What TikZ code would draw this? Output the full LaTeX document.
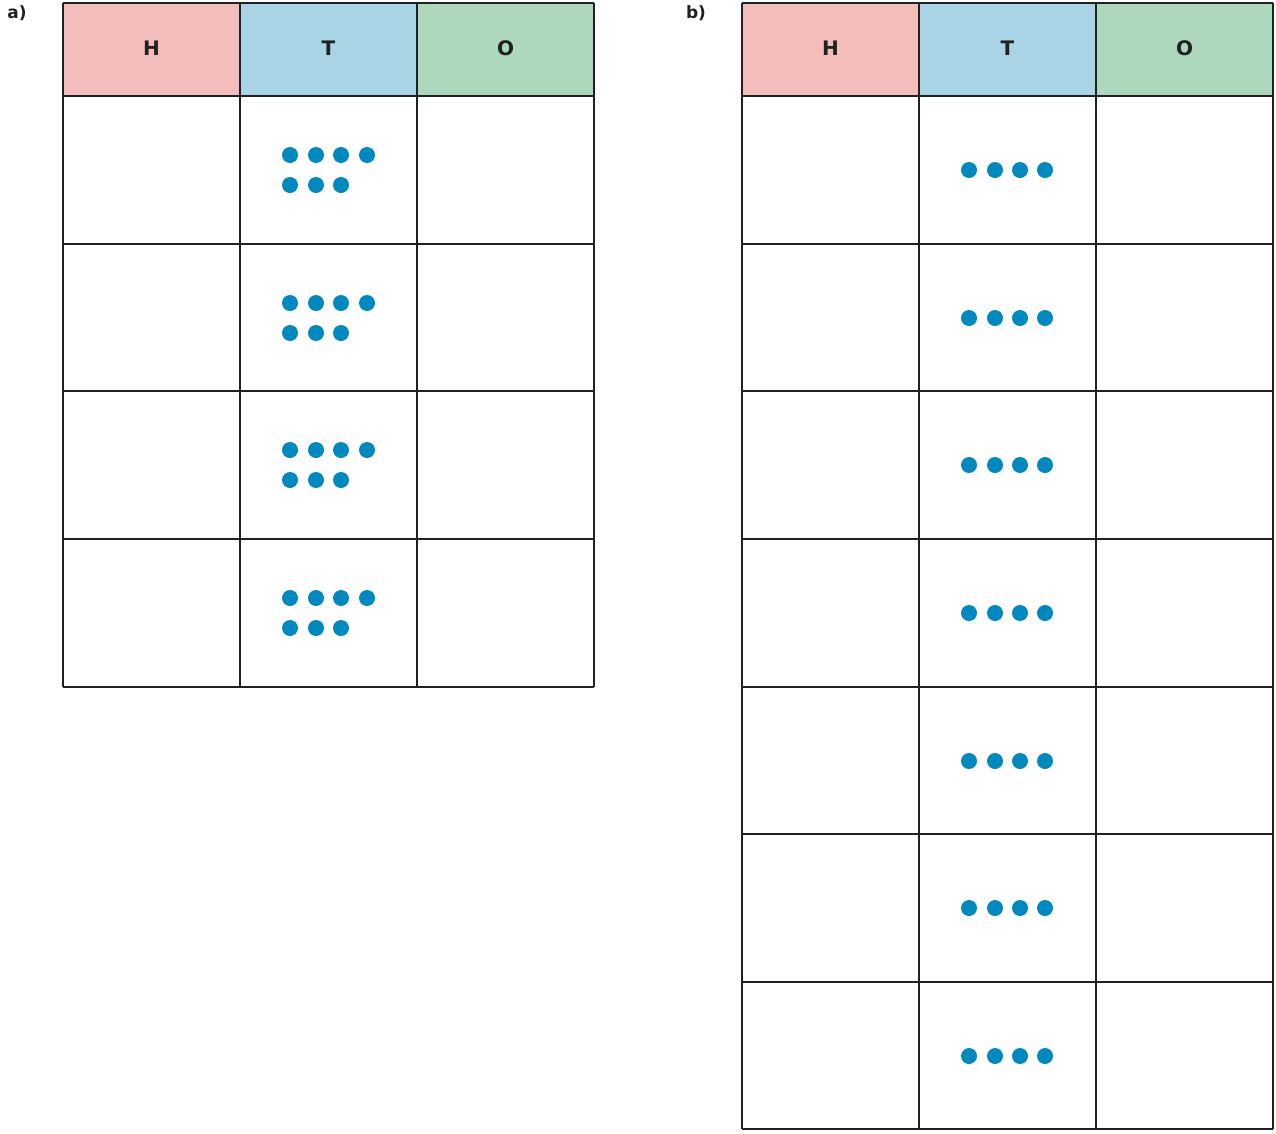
\documentclass[tikz,border=0pt]{standalone}
\usepackage{fontspec}
\setmainfont{DejaVu Sans}
\begin{document}
\begin{tikzpicture}[x=1pt,y=-1pt,
  grid/.style={draw=black!87,line width=2pt},
  hd/.style={font=\bfseries\fontsize{20}{24}\selectfont,text=black!87},
  lbl/.style={font=\bfseries\fontsize{17}{20}\selectfont,text=black!87},
  dot/.style={fill=cyan!60!blue!75!black,draw=none}]
\definecolor{hc}{HTML}{F2BDBB}\definecolor{tc}{HTML}{A8D4E6}\definecolor{oc}{HTML}{ADD8BB}\definecolor{dc}{HTML}{0088BF}
\useasboundingbox (0,0) rectangle (1276,1133);
\foreach \x/\n in {63/a,742/b}{
  \fill[hc] (\x,3) rectangle ++(177,93);
  \fill[tc] (\x+177,3) rectangle ++(177,93);
  \fill[oc] (\x+354,3) rectangle ++(177,93);
  \node[hd] at (\x+88.5,48) {H};
  \node[hd] at (\x+265.5,48) {T};
  \node[hd] at (\x+442.5,48) {O};
}
\node[lbl] at (17,13) {a)};
\node[lbl] at (696,13) {b)};
% table a
\foreach \y in {96,244,391,539}{
  \foreach \dx in {290,316,341,367} \fill[dc] (\dx,\y+59) circle (8);
  \foreach \dx in {290,316,341} \fill[dc] (\dx,\y+89) circle (8);
}
\foreach \y in {3,96,244,391,539,687} \draw[grid] (63,\y) -- (594,\y);
\foreach \x in {63,240,417,594} \draw[grid] (\x,3) -- (\x,687);
% table b
\foreach \y in {96,244,391,539,687,834,982}{
  \foreach \dx in {969,995,1020,1045} \fill[dc] (\dx,\y+74) circle (8);
}
\foreach \y in {3,96,244,391,539,687,834,982,1129} \draw[grid] (742,\y) -- (1273,\y);
\foreach \x in {742,919,1096,1273} \draw[grid] (\x,3) -- (\x,1129);
\end{tikzpicture}
\end{document}
